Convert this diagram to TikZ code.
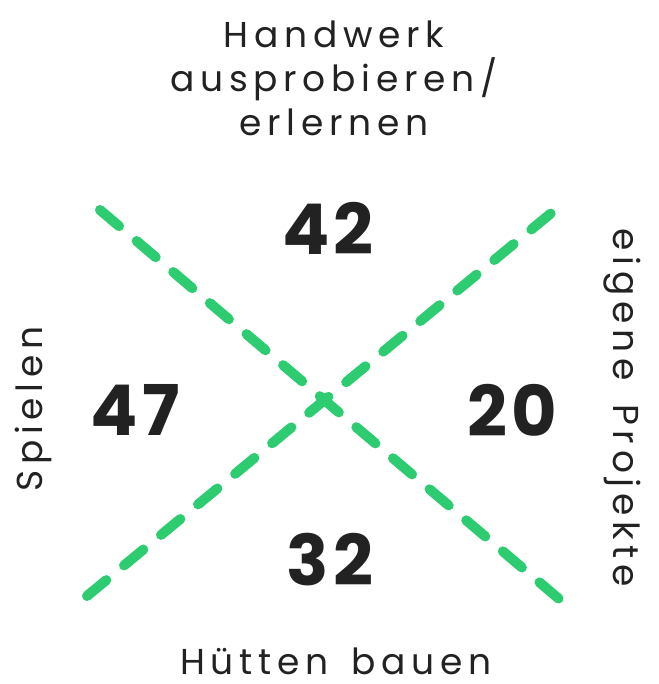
\documentclass[tikz,border=0pt]{standalone}
\usepackage{fontspec}
\usetikzlibrary{positioning}
\setmainfont{Poppins}
\newfontfamily\labelfont[LetterSpace=16]{Poppins}
\newfontfamily\numberfont[LetterSpace=6]{Poppins}
\definecolor{crossgreen}{RGB}{46,204,113}
\definecolor{labeldark}{RGB}{34,34,34}

\begin{document}
\begin{tikzpicture}[x=1pt, y=-1pt,
    axislabel/.style={inner sep=0pt, text=labeldark, align=center,
        font=\labelfont\fontsize{36}{44}\selectfont},
    votecount/.style={inner sep=0pt, text=labeldark,
        font=\numberfont\bfseries\fontsize{70}{70}\selectfont},
    crossline/.style={crossgreen, line width=10pt, line cap=round,
        dash pattern=on 25pt off 23pt}]
    \useasboundingbox (0,0) rectangle (658,684);

    % Dashed cross
    \coordinate (tl) at (100,210);
    \coordinate (br) at (565,604);
    \coordinate (bl) at (87,596);
    \coordinate (tr) at (561,205);
    \draw[crossline] (tl) -- (br);
    \draw[crossline] (bl) -- (tr);

    % Labels round the cross
    \node[axislabel] (handwerk) at (334,78) {Handwerk\\ausprobieren/\\erlernen};
    \node[axislabel] (huetten) at (336,661) {Hütten\hspace{8pt} bauen};
    \node[axislabel, rotate=90] (spielen) at (33,409) {Spielen};
    \node[axislabel, rotate=-90] (projekte) at (622,408) {eigene\hspace{8pt} Projekte};

    % Counts
    \node[votecount] (top) at (328,228) {42};
    \node[votecount] (left) at (135,410) {47};
    \node[votecount] (right) at (512,410) {20};
    \node[votecount] (bottom) at (330,560) {32};
\end{tikzpicture}
\end{document}
